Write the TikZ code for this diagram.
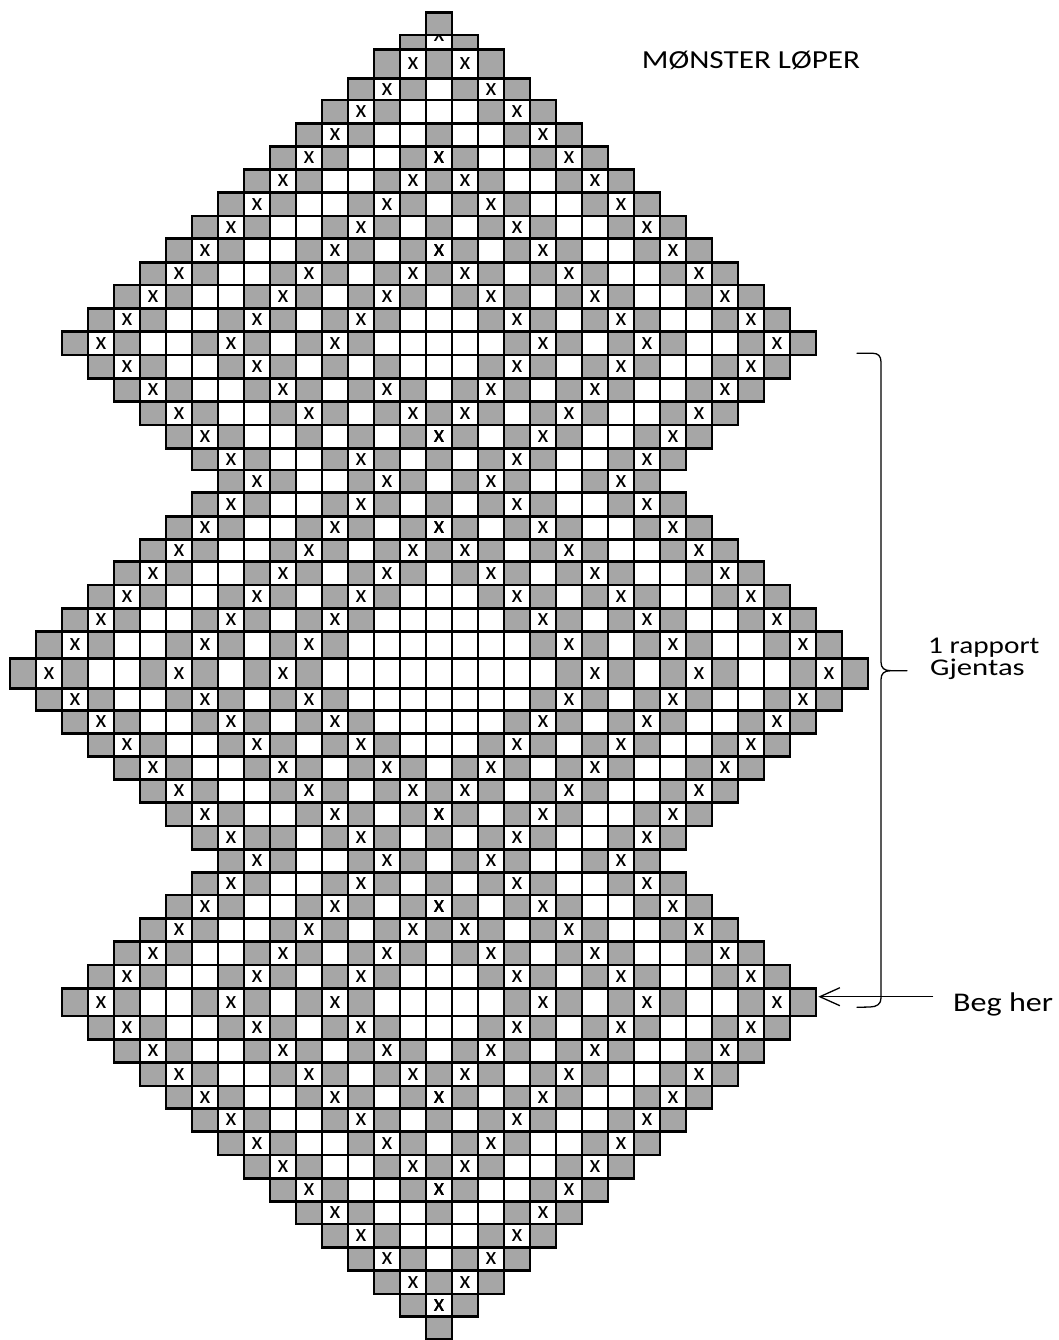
\documentclass[tikz,border=0pt]{standalone}
\usepackage{fontspec}
\usepackage{graphicx}
\setmainfont{Carlito}
\usetikzlibrary{arrows.meta}
\definecolor{cellgray}{RGB}{166,166,166}
\tikzset{
  cellline/.style={draw=black, line width=2.6pt},
  xmark/.style={inner sep=0pt, font=\fontsize{25}{25}\selectfont},
  lbl/.style={inner sep=0pt, anchor=base west},
  bracepath/.style={draw=black, line width=1.3pt, line cap=round, line join=round},
  arr/.style={draw=black, line width=1.3pt, -{Straight Barb[length=20pt,width=18pt]}},
}
\def\gridstripbraces#1{#1}
% #1 row id, #2 top y, #3 bottom y, #4 first column, #5 grey columns (left half), #6 x columns (left half)
\newcommand\gridrow[6]{%
  \pgfmathtruncatemacro\gre{32-#4}%
  \edef\gridG{\expandafter\gridstripbraces#5}%
  \edef\gridX{\expandafter\gridstripbraces#6}%
  \foreach \cc in {#4,...,\gre}{\path[cellline,fill=white] ({10+26*\cc},#2) rectangle ({36+26*\cc},#3);}%
  \foreach \cc in \gridG{\path[cellline,fill=cellgray] ({10+26*\cc},#2) rectangle ({36+26*\cc},#3) ({10+26*(32-\cc)},#2) rectangle ({36+26*(32-\cc)},#3);}%
  \foreach \cc in \gridX{\ifnum\cc>-1
    \node[xmark] (xl-#1-\cc) at ({23+26*\cc},{(#2+#3)/2}) {x};
    \node[xmark] (xr-#1-\cc) at ({23+26*(32-\cc)},{(#2+#3)/2}) {x};\fi}%
}
\begin{document}
\begin{tikzpicture}[x=1pt,y=-1pt]
\useasboundingbox (0,0) rectangle (1058,1340);
\fill[white] (0,0) rectangle (1058,1340);
% top rows (row 1 partly hidden under row 0)
\gridrow{1}{35}{49.3}{15}{15}{-1}
\begin{scope}
  \clip (426,36.3) rectangle (452,49.3);
  \node[xmark] (x-1-16) at (439,36) {x};
\end{scope}
\gridrow{0}{12.7}{35}{16}{16}{-1}
% bottom rows
\gridrow{55}{1294}{1316.7}{15}{15}{16}
\gridrow{56}{1316.7}{1339.3}{16}{16}{-1}
% symmetric body
\foreach \k/\yt/\yb/\ytt/\ybb/\s/\G/\X in {
 2/49.3/78.3/1270.7/1294/14/{14,16}/{15},
 3/78.3/100/1247.3/1270.7/13/{13,15}/{14},
 4/100/123.3/1224/1247.3/12/{12,14}/{13},
 5/123.3/146.7/1201.7/1224/11/{11,13,16}/{12},
 6/146.7/169.3/1178.3/1201.7/10/{10,12,15}/{11,16},
 7/169.3/192.7/1155/1178.3/9/{9,11,14,16}/{10,15},
 8/192.7/216/1131.7/1155/8/{8,10,13,15}/{9,14},
 9/216/238.7/1108.3/1131.7/7/{7,9,12,14,16}/{8,13},
 10/238.7/262.3/1086/1108.3/6/{6,8,11,13,15}/{7,12,16},
 11/262.3/285/1062.7/1086/5/{5,7,10,12,14,16}/{6,11,15},
 12/285/308.3/1039.3/1062.7/4/{4,6,9,11,13,15}/{5,10,14},
 13/308.3/331.7/1016/1039.3/3/{3,5,8,10,12,14}/{4,9,13},
 14/331.7/355/988.3/1016/2/{2,4,7,9,11,13}/{3,8,12},
 15/355/378.3/965/988.3/3/{3,5,8,10,12,14}/{4,9,13},
 16/378.3/401.7/941.7/965/4/{4,6,9,11,13,15}/{5,10,14},
 17/401.7/425/918.3/941.7/5/{5,7,10,12,14,16}/{6,11,15},
 18/425/448.3/895/918.3/6/{6,8,11,13,15}/{7,12,16},
 19/448.3/470/872.7/895/7/{7,9,12,14,16}/{8,13},
 20/470/492.7/849.3/872.7/8/{8,10,13,15}/{9,14},
 21/492.7/516.7/826/849.3/7/{7,9,12,14,16}/{8,13},
 22/516.7/539.3/802.7/826/6/{6,8,11,13,15}/{7,12,16},
 23/539.3/561.7/779.3/802.7/5/{5,7,10,12,14,16}/{6,11,15},
 24/561.7/585/756.7/779.3/4/{4,6,9,11,13,15}/{5,10,14},
 25/585/608.3/733.3/756.7/3/{3,5,8,10,12,14}/{4,9,13},
 26/608.3/631.7/710.7/733.3/2/{2,4,7,9,11,13}/{3,8,12},
 27/631.7/658.3/688.3/710.7/1/{1,3,6,8,10,12}/{2,7,11},
 28/658.3/688.3/658.3/688.3/0/{0,2,5,7,9,11}/{1,6,10}}{
  \gridrow{\k}{\yt}{\yb}{\s}{\G}{\X}
  \pgfmathtruncatemacro\kk{56-\k}
  \gridrow{\kk}{\ytt}{\ybb}{\s}{\G}{\X}
}
% irregular cells of the chart
\path[cellline,fill=white] (348,355) rectangle (374,378.3);
\path[cellline,fill=white] (322,425) rectangle (348,448.3);
\path[cellline,fill=cellgray] (270,826) rectangle (296,849.3);
% texts
\node[lbl] (title) at (641.7,68.3) {\fontsize{26}{30}\selectfont\scalebox{1.2}[1]{MØNSTER LØPER}};
\node[lbl] (rapport) at (928,653.5) {\fontsize{24}{24}\selectfont\scalebox{1.22}[1]{1 rapport}};
\node[lbl] (gjentas) at (930,675.5) {\fontsize{24}{24}\selectfont\scalebox{1.28}[1]{Gjentas}};
\node[lbl] (beg) at (953,1011.7) {\fontsize{27}{27}\selectfont\scalebox{1.19}[1]{Beg her}};
% brace
\draw[bracepath] (857,353.3) -- (873,353.3) .. controls (878,353.3) and (881,356) .. (881,362)
  -- (881,662) .. controls (881,668) and (884,670.7) .. (891,670.7) -- (907,670.7)
  (891,670.7) .. controls (884,670.7) and (881,673.5) .. (881,679.5)
  -- (881,998) .. controls (881,1004) and (877,1006.8) .. (870,1007) -- (857,1007.3);
% arrow
\coordinate (begfrom) at (933.3,996.7);
\coordinate (begcell) at (818.3,996.7);
\draw[arr] (begfrom) -- (begcell);
\end{tikzpicture}
\end{document}
